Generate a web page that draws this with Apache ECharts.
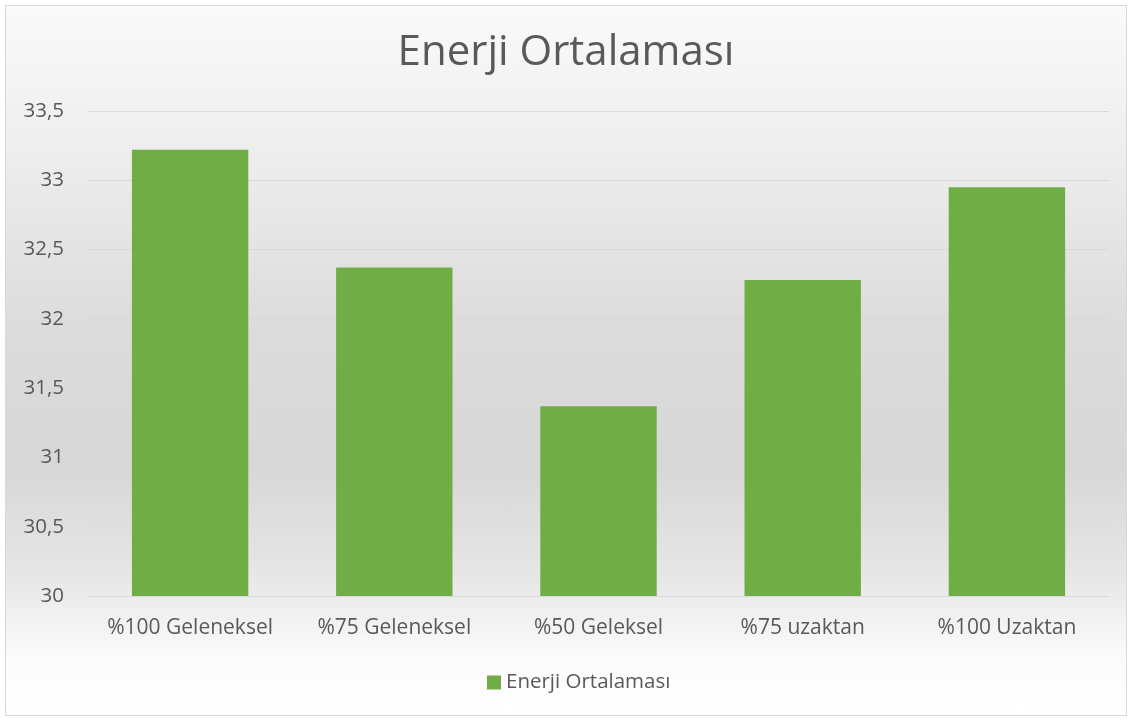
<!DOCTYPE html>
<html>
<head>
<meta charset="utf-8">
<script src="https://cdn.jsdelivr.net/npm/echarts@6/dist/echarts.min.js"></script>
<style>
  html, body { margin: 0; padding: 0; background: #fff; }
  #frame {
    position: absolute; left: 5px; top: 5px; width: 1122px; height: 711px;
    border: 1px solid #d9d9d9; box-sizing: border-box;
    background: linear-gradient(to bottom, #fafafa 0%, #eeeeee 20%, #dcdcdc 45%, #d7d7d7 65%, #e6e6e6 80%, #fbfbfb 92%, #ffffff 100%);
  }
  #main { position: absolute; left: 0; top: 0; width: 1132px; height: 722px; }
</style>
</head>
<body>
<div id="frame"></div>
<div id="main"></div>
<script>
var categories = ['%100 Geleneksel', '%75 Geleneksel', '%50 Geleksel', '%75 uzaktan', '%100 Uzaktan'];
var energyAvg = [33.22, 32.37, 31.37, 32.28, 32.95];
var seriesName = 'Enerji Ortalaması';

var myChart = echarts.init(document.getElementById('main'));
var textColor = '#595959';
var font = '"Open Sans", "Noto Sans", sans-serif';

var option = {
    backgroundColor: 'transparent',
    textStyle: { fontFamily: font },
    title: {
        text: 'Enerji Ortalaması',
        left: 'center',
        top: 27,
        textStyle: { fontSize: 42, fontWeight: 'normal', color: textColor, fontFamily: font }
    },
    grid: {
        left: 88,
        right: 23,
        top: 111,
        bottom: 126
    },
    legend: {
        data: [seriesName],
        bottom: 24,
        left: 482,
        icon: 'rect',
        itemWidth: 14,
        itemHeight: 14,
        itemGap: 5,
        textStyle: { fontSize: 20.5, color: textColor, fontFamily: font }
    },
    xAxis: {
        type: 'category',
        data: categories,
        axisLine: { lineStyle: { color: '#d9d9d9', width: 1 } },
        axisTick: { show: false },
        axisLabel: { interval: 0, fontSize: 21, color: textColor, margin: 22, fontFamily: font }
    },
    yAxis: {
        type: 'value',
        min: 30,
        max: 33.5,
        interval: 0.5,
        axisLine: { show: false },
        axisTick: { show: false },
        splitLine: { lineStyle: { color: '#d9d9d9', width: 1 } },
        axisLabel: {
            fontSize: 20.5, color: textColor, margin: 24, fontFamily: font,
            formatter: function (v) { return String(v).replace('.', ','); }
        }
    },
    series: [
        {
            name: seriesName,
            type: 'bar',
            data: energyAvg,
            barWidth: '57%',
            itemStyle: { color: '#70ad47' }
        }
    ]
};

myChart.setOption(option);
</script>
</body>
</html>
